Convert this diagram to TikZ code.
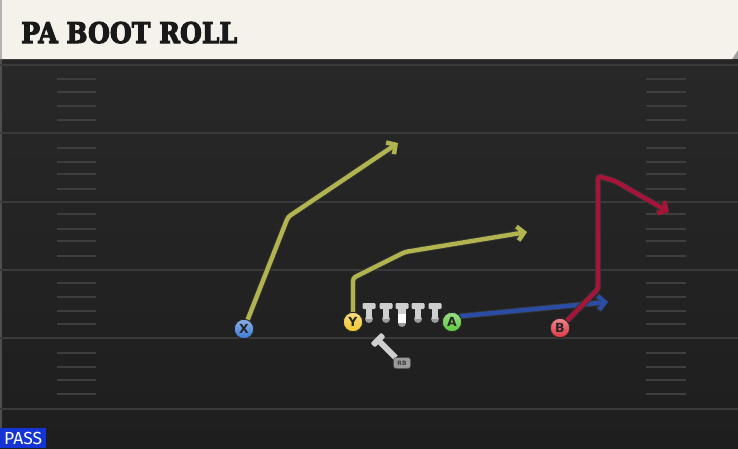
\documentclass[tikz,border=0pt]{standalone}
\usepackage{fontspec}
\setmainfont{DejaVu Serif}
\newfontfamily\passfont{Fira Sans}
\newfontfamily\badgefont{DejaVu Sans}
\newfontfamily\titlefont[FakeBold=4]{DejaVu Serif Bold}
\usetikzlibrary{arrows.meta,calc}
\definecolor{fieldtop}{HTML}{282828}
\definecolor{fieldbot}{HTML}{1E1E1E}
\definecolor{yardline}{HTML}{3A3A3A}
\definecolor{hashc}{HTML}{3E3E3E}
\definecolor{cream}{HTML}{F5F2EC}
\definecolor{routeyel}{HTML}{B2B450}
\definecolor{routered}{HTML}{A5153A}
\definecolor{routeblue}{HTML}{2A4DA3}
\definecolor{xblue}{HTML}{3B7AD6}
\definecolor{yyel}{HTML}{F1C62C}
\definecolor{agreen}{HTML}{5AC83A}
\definecolor{bred}{HTML}{DF363F}
\definecolor{lmgray}{HTML}{CFCFCF}
\definecolor{lmdark}{HTML}{9A9A9A}
\definecolor{passblue}{HTML}{1434D6}
\tikzset{
  route/.style={line width=4.4pt, line join=round, line cap=round, rounded corners=3pt,
    -{Straight Barb[length=6.5pt,width=14pt]},
    preaction={draw=black!80, line width=6.2pt}},
  player/.style={circle, minimum size=19.5pt, inner sep=0pt, draw=black!85, line width=0.9pt,
    font=\badgefont\bfseries\fontsize{12.5}{12.5}\selectfont, text=black!85},
  hashmark/.style={draw=hashc, line width=1.8pt},
  yard/.style={draw=yardline, line width=2pt},
  lineman/.pic={
    \fill[lmdark] (0,16) circle (4pt);
    \fill[lmgray, rounded corners=1.2pt] (-6.5,0) rectangle (6.5,6);
    \fill[lmgray] (-3,4) rectangle (3,15.5);
  },
  centerman/.pic={
    \fill[lmdark] (0,20) circle (4pt);
    \fill[lmgray, rounded corners=1.2pt] (-6.5,0) rectangle (6.5,6);
    \fill[lmgray] (-4,4) rectangle (4,11);
    \fill[white] (-4,11) rectangle (4,20);
  },
  backman/.pic={
    \fill[lmgray, rounded corners=1.2pt] (-7.5,-3) rectangle (7.5,3);
    \fill[lmgray] (-3,0) rectangle (3,25);
  }
}
\begin{document}
\begin{tikzpicture}[x=1pt,y=-1pt]
\useasboundingbox (0,0) rectangle (738,448);
% field
\shade[top color=fieldtop, bottom color=fieldbot] (0,59) rectangle (738,448);
\fill[black!85] (0,59) rectangle (738,63);
\fill[yardline!90] (0,59) rectangle (2,448);
\foreach \yy in {65,133,202,270,338,409} \draw[yard] (0,\yy) -- (738,\yy);
\foreach \yy in {79,92,106,120,148,162,174,189,214,229,241,256,283,297,311,324,353,367,380,394}{
  \draw[hashmark] (57,\yy) -- (96,\yy);
  \draw[hashmark] (646,\yy) -- (686,\yy);
}
% title bar
\fill[gray!75] (720,40) rectangle (738,59);
\fill[cream] (0,0) -- (738,0) -- (738,50) -- (732,59) -- (0,59) -- cycle;
\fill[gray!60] (0,0) rectangle (2,59);
\node[anchor=base west, inner sep=0pt, text=black!90, font=\titlefont\fontsize{28.5}{28.5}\selectfont] (title) at (21,43) {\scalebox{0.88}[1]{PA BOOT ROLL}};
% PASS label
\node[fill=passblue, text=white, inner sep=0pt, minimum width=46pt, minimum height=20pt, anchor=north west,
  font=\passfont\fontsize{17.5}{17.5}\selectfont] (pass) at (0,428) {\raisebox{-1pt}{PASS}};
% players
\node[player, top color=xblue!60!white, bottom color=xblue] (X) at (244,329) {X};
\node[player, top color=yyel!60!white, bottom color=yyel] (Y) at (353,322) {Y};
\node[player, top color=agreen!60!white, bottom color=agreen] (A) at (452,322) {A};
\node[player, top color=bred!60!white, bottom color=bred] (B) at (560,328) {B};
% route points
\coordinate (xb) at (288,217);
\coordinate (xe) at (398,143);
\coordinate (yb1) at (353,278);
\coordinate (yb2) at (405,252);
\coordinate (ye) at (527,232);
\coordinate (ae) at (608,302);
\coordinate (bb1) at (598,289);
\coordinate (bb2) at (598,176);
\coordinate (bb3) at (615,181);
\coordinate (be) at (669,212);
% routes
\draw[route, draw=routeyel] (X) -- (xb) -- (xe);
\draw[route, draw=routeyel] (Y) -- (yb1) -- (yb2) -- (ye);
\draw[route, draw=routeblue] (A.35) -- (ae);
\draw[route, draw=routered] (B) -- (bb1) -- (bb2) -- (bb3) -- (be);
% redraw players on top
\node[player, top color=xblue!60!white, bottom color=xblue] at (X) {X};
\node[player, top color=yyel!60!white, bottom color=yyel] at (Y) {Y};
\node[player, top color=agreen!60!white, bottom color=agreen] at (A) {A};
\node[player, top color=bred!60!white, bottom color=bred] at (B) {B};
% line
\pic at (369,303) {lineman};
\pic at (386,303) {lineman};
\pic at (402,303) {centerman};
\pic at (418,303) {lineman};
\pic at (435,303) {lineman};
% running back
\pic[rotate=45] at (378,340) {backman};
\node[fill=lmdark, draw=black!70, line width=0.5pt, rounded corners=2.5pt, minimum width=17pt, minimum height=11pt, inner sep=0pt,
  font=\badgefont\bfseries\fontsize{6}{6}\selectfont, text=black!75] (RB) at (402,363) {RB};
\end{tikzpicture}
\end{document}
